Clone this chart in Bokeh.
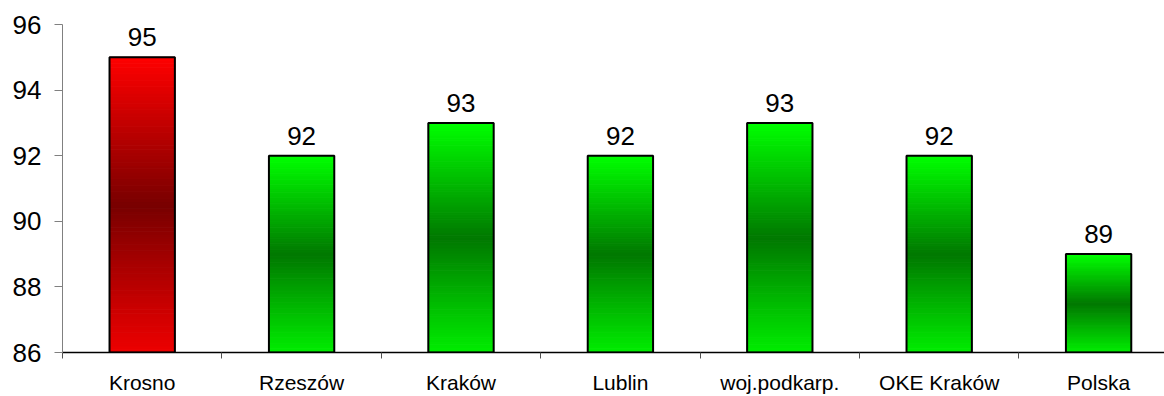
import numpy as np
from bokeh.plotting import figure
from bokeh.models import Range1d, FixedTicker
from bokeh.core.properties import value
from bokeh.embed import file_html
from bokeh.resources import INLINE

categories = ["Krosno", "Rzeszów", "Kraków", "Lublin", "woj.podkarp.", "OKE Kraków", "Polska"]
values = [95, 92, 93, 92, 93, 92, 89]
highlight = [True, False, False, False, False, False, False]
y_ticks = [86, 88, 90, 92, 94, 96]
y_min, y_max = 86, 96

FONT = "Liberation Sans"
BAR_W = 0.41
N_SLICES = 90

def grad_color(t, red):
    # t: 0 bottom .. 1 top; darkest in the middle
    if t >= 0.5:
        k = (t - 0.5) / 0.5
        lo, hi = 120, 255
    else:
        k = (0.5 - t) / 0.5
        lo, hi = 120, 238
    c = int(round(lo + (hi - lo) * k))
    return "#%02x%02x%02x" % ((c, 0, 0) if red else (0, c, 0))

xs = [i + 0.5 for i in range(len(categories))]

p = figure(width=1164, height=396, output_backend="svg", toolbar_location=None,
           x_range=Range1d(0, 1102 / 159.4), y_range=Range1d(y_min, y_max),
           min_border_left=62, min_border_right=0, min_border_top=24, min_border_bottom=42)
p.outline_line_color = None
p.xgrid.visible = False
p.ygrid.visible = False

L, R, B, T, C = [], [], [], [], []
for x, v, h in zip(xs, values, highlight):
    edges = np.linspace(y_min, v, N_SLICES + 1)
    for j in range(N_SLICES):
        t = (j + 0.5) / N_SLICES
        L.append(x - BAR_W / 2); R.append(x + BAR_W / 2)
        B.append(edges[j]); T.append(edges[j + 1])
        C.append(grad_color(t, h))
p.quad(left=L, right=R, bottom=B, top=T, fill_color=C, line_color=C, line_width=1)
p.vbar(x=xs, width=BAR_W, bottom=y_min, top=values, fill_color=None,
       line_color="black", line_width=2)

p.text(x=xs, y=values, text=[str(v) for v in values], text_align="center",
       text_baseline="alphabetic", y_offset=-20, text_font=value(FONT),
       text_font_size="26px", text_color="black")

# x axis
xa = p.xaxis[0]
xa.ticker = FixedTicker(ticks=xs, minor_ticks=list(range(len(categories) + 1)))
xa.major_label_overrides = {x: c for x, c in zip(xs, categories)}
xa.major_tick_in = 0
xa.major_tick_out = 0
xa.minor_tick_in = 0
xa.minor_tick_out = 6
xa.minor_tick_line_color = "#505050"
xa.axis_line_color = "black"
xa.axis_line_width = 1.5
xa.major_label_text_font = FONT
xa.major_label_text_font_size = "21px"
xa.major_label_text_color = "black"
xa.major_label_standoff = 12

# y axis
ya = p.yaxis[0]
ya.ticker = FixedTicker(ticks=y_ticks, minor_ticks=[])
ya.major_tick_in = 0
ya.major_tick_out = 8
ya.major_tick_line_color = "#808080"
ya.axis_line_color = "#808080"
ya.axis_line_width = 1
ya.major_label_text_font = FONT
ya.major_label_text_font_size = "26px"
ya.major_label_text_color = "black"
ya.major_label_standoff = 13

open("out.html", "w").write(file_html(p, INLINE))
